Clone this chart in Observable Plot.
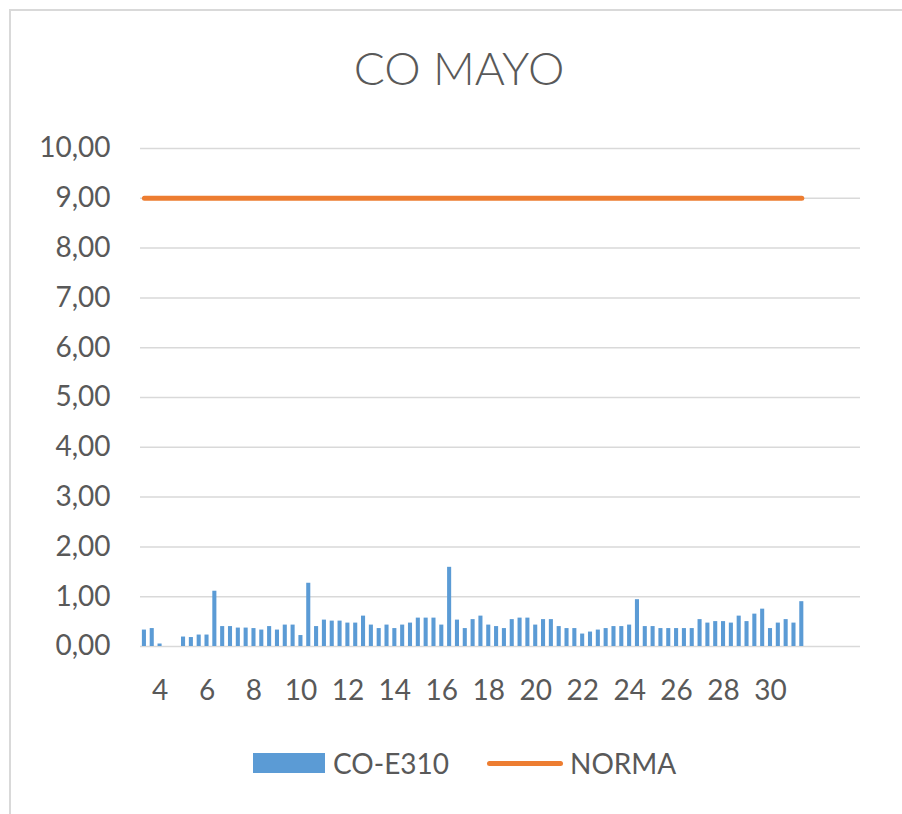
<!DOCTYPE html>
<html>
<head>
<meta charset="utf-8">
<script src="https://cdn.jsdelivr.net/npm/d3@7"></script>
<script src="https://cdn.jsdelivr.net/npm/@observablehq/plot@0.6"></script>
<style>
  html, body { margin: 0; padding: 0; background: #fff; }
  #wrap { position: relative; width: 902px; height: 814px; overflow: hidden; background: #fff; font-family: Lato, "Open Sans", sans-serif; }
  #frame { position: absolute; left: 9px; top: 9px; width: 1000px; height: 1000px; border-left: 2px solid #d9d9d9; border-top: 2px solid #d9d9d9; }
  #title { position: absolute; left: 0; width: 918px; top: 40px; text-align: center; font-size: 46px; font-weight: 300; color: #595959; }
  #chart { position: absolute; left: 0; top: 120px; }
  #legend { position: absolute; top: 748px; left: 0; width: 902px; height: 30px; font-size: 28px; color: #595959; }
  .sw { position: absolute; }
  .lt { position: absolute; top: -2px; }
</style>
</head>
<body>
<div id="wrap">
  <div id="frame"></div>
  <div id="title">CO MAYO</div>
  <div id="chart"></div>
  <div id="legend">
    <div class="sw" style="left:253px;top:5px;width:72px;height:20px;background:#5b9bd5"></div>
    <div class="lt" style="left:333px">CO-E310</div>
    <div class="sw" style="left:487px;top:13px;width:76px;height:5px;border-radius:3px;background:#ed7d31"></div>
    <div class="lt" style="left:570px">NORMA</div>
  </div>
</div>
<script>
// Measurements CO-E310 (3 per day), null = no data
const coValues = [
  0.33, 0.36, 0.05, null, null, 0.19, 0.18, 0.23, 0.23, 1.11,
  0.40, 0.40, 0.37, 0.37, 0.36, 0.33, 0.40, 0.33, 0.43, 0.43,
  0.22, 1.27, 0.40, 0.53, 0.51, 0.51, 0.47, 0.47, 0.61, 0.43,
  0.36, 0.43, 0.36, 0.43, 0.47, 0.57, 0.57, 0.57, 0.43, 1.59,
  0.53, 0.36, 0.54, 0.61, 0.43, 0.40, 0.36, 0.54, 0.57, 0.57,
  0.43, 0.54, 0.54, 0.40, 0.36, 0.36, 0.25, 0.29, 0.33, 0.36,
  0.40, 0.40, 0.43, 0.94, 0.40, 0.40, 0.36, 0.36, 0.36, 0.36,
  0.36, 0.54, 0.47, 0.50, 0.50, 0.47, 0.61, 0.50, 0.65, 0.75,
  0.36, 0.47, 0.54, 0.47, 0.90
];
const normaValue = 9;
const categoryCount = 92;
const xTickLabels = [4, 6, 8, 10, 12, 14, 16, 18, 20, 22, 24, 26, 28, 30];
const xTickStart = 2, xTickStep = 6;
const yTicks = [0, 1, 2, 3, 4, 5, 6, 7, 8, 9, 10];

const categories = d3.range(categoryCount);
const bars = coValues.map((v, i) => ({i, v})).filter(d => d.v != null);
const norma = coValues.map((v, i) => ({i, v: normaValue}));
const tickPositions = xTickLabels.map((_, k) => xTickStart + k * xTickStep);
const tickMap = new Map(tickPositions.map((p, k) => [p, xTickLabels[k]]));

const chart = Plot.plot({
  width: 902,
  height: 600,
  marginLeft: 140,
  marginRight: 42,
  marginTop: 28,
  marginBottom: 74,
  style: {fontFamily: "Lato, 'Open Sans', sans-serif", fontSize: "28px", color: "#595959", background: "transparent"},
  x: {type: "band", domain: categories, paddingInner: 0.48, paddingOuter: 0.24, axis: null},
  y: {domain: [0, 10], axis: null},
  marks: [
    Plot.ruleY(yTicks, {stroke: "#d9d9d9", strokeWidth: 1.5}),
    Plot.axisY(yTicks, {label: null, tickSize: 0, tickPadding: 30, tickFormat: d => d.toFixed(2).replace(".", ","), fill: "#595959", fontSize: 28}),
    Plot.axisX(tickPositions, {label: null, tickSize: 0, tickPadding: 34, tickFormat: d => String(tickMap.get(d)), fill: "#595959", fontSize: 28}),
    Plot.barY(bars, {x: "i", y: "v", fill: "#5b9bd5"}),
    Plot.line(norma, {x: "i", y: "v", stroke: "#ed7d31", strokeWidth: 5, strokeLinecap: "round"})
  ]
});
document.getElementById("chart").appendChild(chart);
</script>
</body>
</html>
